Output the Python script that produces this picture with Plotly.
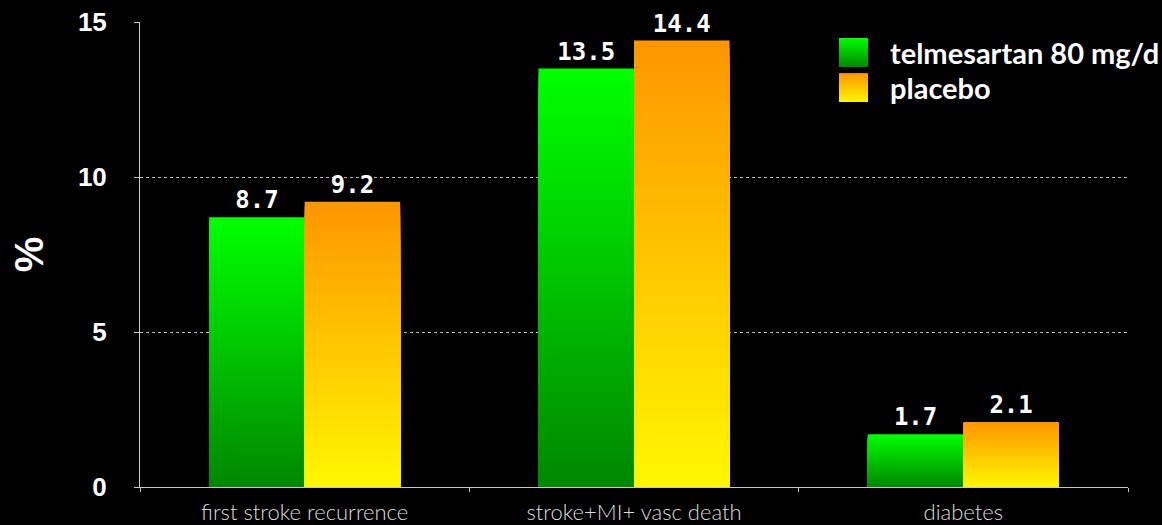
import base64
import plotly.graph_objects as go

categories = ["first stroke recurrence", "stroke+MI+ vasc death", "diabetes"]
telmisartan = [8.7, 13.5, 1.7]
placebo = [9.2, 14.4, 2.1]
series_names = ["telmesartan 80 mg/d", "placebo"]
y_ticks = [0, 5, 10, 15]

# gradient colours (top, bottom)
green_top, green_bottom = (0, 255, 0), (0, 136, 0)
orange_top, orange_bottom = (255, 150, 0), (255, 246, 0)

N = 60


def mix(c1, c2, t):
    return "rgb(%d,%d,%d)" % tuple(round(a + (b - a) * t) for a, b in zip(c1, c2))


fig = go.Figure()

for vals, top, bot, grp in [(telmisartan, green_top, green_bottom, "g"),
                            (placebo, orange_top, orange_bottom, "o")]:
    # draw from tallest (top colour) to shortest (bottom colour) overlapping
    for k in range(N):
        frac = (N - k) / N
        fig.add_trace(go.Bar(
            x=categories, y=[v * frac for v in vals],
            offsetgroup=grp, marker=dict(color=mix(top, bot, k / (N - 1)), line=dict(width=0)),
            showlegend=False, hoverinfo="skip",
        ))
    fig.add_trace(go.Bar(
        x=categories, y=vals, offsetgroup=grp,
        marker=dict(color="rgba(0,0,0,0)", line=dict(width=0)),
        text=[f"{v:.1f}" for v in vals], textposition="outside",
        textfont=dict(family="DejaVu Sans Mono", size=24, color="white", weight="bold"),
        cliponaxis=False, showlegend=False, hoverinfo="skip",
    ))


def grad_svg(top, bot):
    svg = ('<svg xmlns="http://www.w3.org/2000/svg" width="30" height="30">'
           '<defs><linearGradient id="g" x1="0" y1="0" x2="0" y2="1">'
           f'<stop offset="0" stop-color="rgb{top}"/><stop offset="1" stop-color="rgb{bot}"/>'
           '</linearGradient></defs><rect width="30" height="30" fill="url(#g)"/></svg>')
    return "data:image/svg+xml;base64," + base64.b64encode(svg.encode()).decode()


images = []
annotations = []
for i, (name, top, bot) in enumerate([(series_names[0], green_top, green_bottom),
                                      (series_names[1], orange_top, orange_bottom)]):
    ytop = 0.9656 - i * 0.0755
    images.append(dict(source=grad_svg(top, bot), xref="paper", yref="paper",
                       x=0.7075, y=ytop, sizex=0.0294, sizey=0.0624,
                       xanchor="left", yanchor="top", sizing="stretch", layer="above"))
    annotations.append(dict(text=name, xref="paper", yref="paper", x=0.757, y=ytop - 0.0312,
                            xanchor="left", yanchor="middle", showarrow=False,
                            font=dict(family="Lato", size=29, color="white", weight="bold")))

fig.update_layout(
    width=1162, height=525,
    paper_bgcolor="black", plot_bgcolor="black",
    margin=dict(l=140, r=34, t=22, b=38, autoexpand=False),
    barmode="group", bargap=0.42, bargroupgap=0,
    showlegend=False,
    images=images, annotations=annotations,
    xaxis=dict(
        automargin=False,
        showline=True, linecolor="#c8c8c8", linewidth=1,
        tickson="boundaries", ticks="outside", ticklen=4, tickcolor="#c8c8c8",
        ticklabelstandoff=6,
        tickfont=dict(family="Lato", size=22, color="#dddddd", weight=300),
        showgrid=False,
    ),
    yaxis=dict(
        automargin=False,
        range=[0, 15], tickvals=y_ticks,
        showline=True, linecolor="#c8c8c8", linewidth=1,
        ticks="outside", ticklen=5, tickcolor="#c8c8c8",
        ticklabelstandoff=22,
        tickfont=dict(family="Liberation Sans", size=26, color="white", weight="bold"),
        showgrid=True, gridcolor="#bbbbbb", griddash="dot", gridwidth=1,
        zeroline=False,
        title=dict(text="%", font=dict(family="Liberation Sans", size=40, color="white", weight="bold"),
                   standoff=21),
    ),
)

fig.write_html("out.html")
